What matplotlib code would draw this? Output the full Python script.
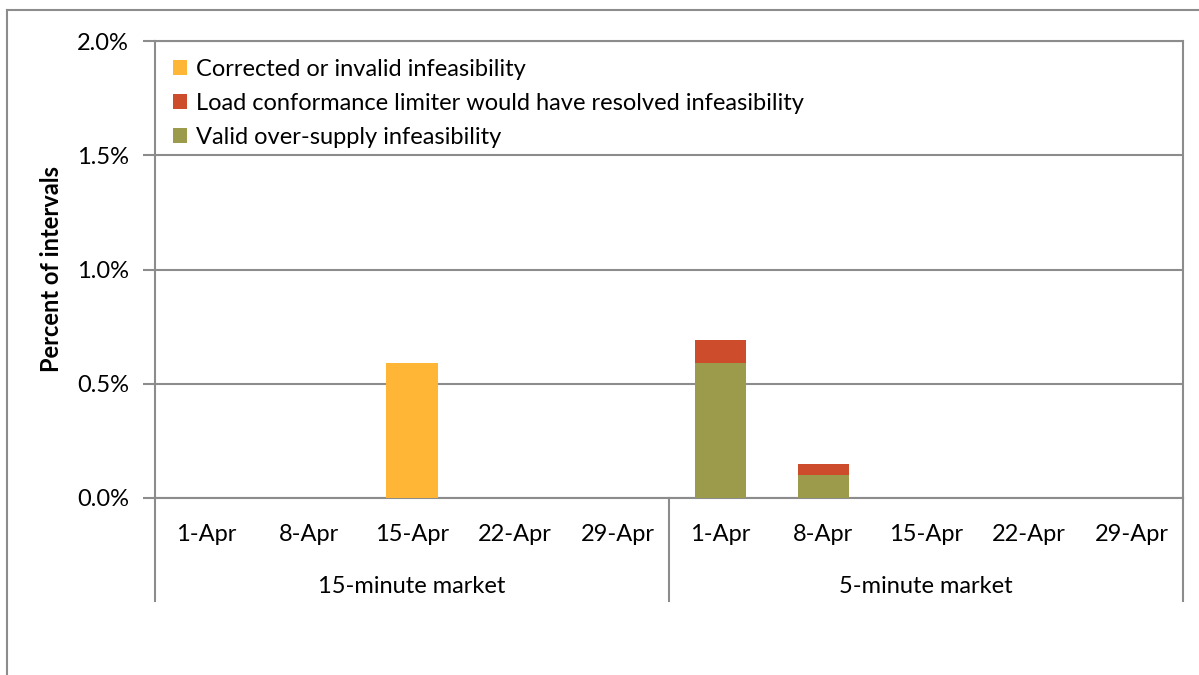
import numpy as np
import matplotlib.pyplot as plt
from matplotlib.lines import Line2D

plt.rcParams['font.family'] = ['Lato', 'DejaVu Sans']

# chart data (percent of intervals)
dates = ['1-Apr', '8-Apr', '15-Apr', '22-Apr', '29-Apr']
markets = ['15-minute market', '5-minute market']
valid = [0, 0, 0, 0, 0, 0.59, 0.10, 0, 0, 0]
load_conf = [0, 0, 0, 0, 0, 0.10, 0.05, 0, 0, 0]
corrected = [0, 0, 0.59, 0, 0, 0, 0, 0, 0, 0]

series_names = ['Valid over-supply infeasibility',
                'Load conformance limiter would have resolved infeasibility',
                'Corrected or invalid infeasibility']
colors = ['#9B9B4B', '#CC4C2C', '#FFB637']
grey = '#8C8C8C'
fs = 17

fig = plt.figure(figsize=(11.99, 6.75), dpi=100)
ax = fig.add_axes([155/1199, 1 - 498/675, (1183 - 155)/1199, (498 - 41)/675])

x = np.arange(len(valid))
bottom = np.zeros(len(valid))
bars = []
for vals, c in zip([valid, load_conf, corrected], colors):
    b = ax.bar(x, vals, width=0.5, bottom=bottom, color=c, zorder=3)
    bars.append(b)
    bottom += np.array(vals)

ax.set_xlim(-0.5, len(valid) - 0.5)
ax.set_ylim(0, 2.0)
ax.set_yticks(np.arange(0, 2.01, 0.5))
ax.set_yticklabels([f'{v:.1f}%' for v in np.arange(0, 2.01, 0.5)], fontsize=fs)
ax.tick_params(axis='y', length=8.6, width=1.5, color=grey, pad=10)
ax.set_xticks([])
ax.yaxis.grid(True, color=grey, linewidth=1.5, zorder=0)
for s in ax.spines.values():
    s.set_color(grey)
    s.set_linewidth(1.5)

ax.set_ylabel('Percent of intervals', fontsize=fs, fontweight='bold', labelpad=10)

# category labels and group labels below axis
trans = ax.get_xaxis_transform()
for i in range(len(valid)):
    ax.text(i, -0.08, dates[i % 5], transform=trans, ha='center', va='center', fontsize=fs)
for g, name in enumerate(markets):
    ax.text(g * 5 + 2, -0.193, name, transform=trans, ha='center', va='center', fontsize=fs)
for xs in [-0.5, 4.5, 9.5]:
    ax.add_line(Line2D([xs, xs], [0, -0.2245], transform=trans, color=grey,
                       linewidth=1.5, clip_on=False))

# legend, reversed order like the original
ax.legend([bars[2], bars[1], bars[0]], series_names[::-1], loc='upper left',
          frameon=False, fontsize=fs, handlelength=0.6, handleheight=0.6,
          handletextpad=0.4, labelspacing=0.55, borderaxespad=0.4,
          borderpad=0.35)

# outer chart border (top and left visible)
fig.add_artist(Line2D([7/1199, 1], [1 - 10/675, 1 - 10/675], color=grey, linewidth=1.5))
fig.add_artist(Line2D([7/1199, 7/1199], [0, 1 - 10/675], color=grey, linewidth=1.5))

fig.savefig('out.png', dpi=100)
